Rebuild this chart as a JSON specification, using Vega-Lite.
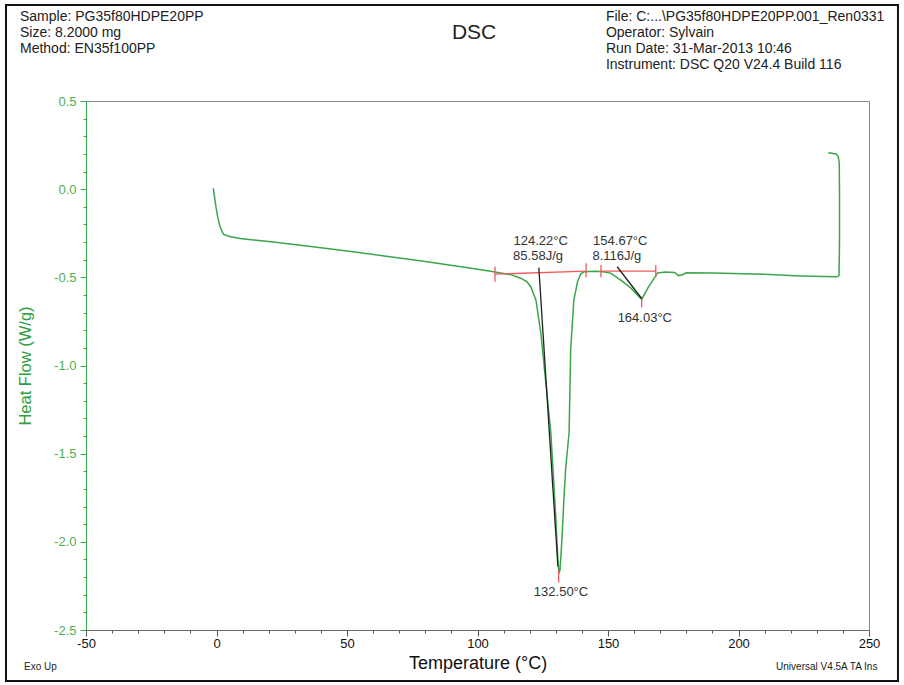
{
  "$schema": "https://vega.github.io/schema/vega-lite/v6.json",
  "width": 783,
  "height": 529,
  "autosize": {"type": "none"},
  "padding": {"left": 86, "top": 101, "right": 35, "bottom": 55},
  "background": "white",
  "config": {"font": "Liberation Sans", "view": {"stroke": "#8a8a8a", "strokeWidth": 1}},
  "datasets": {
    "curve": [
      {"i": 0, "T": -1.2, "HF": 0.005},
      {"i": 1, "T": -0.8, "HF": -0.04},
      {"i": 2, "T": -0.2, "HF": -0.1},
      {"i": 3, "T": 0.5, "HF": -0.16},
      {"i": 4, "T": 1.3, "HF": -0.21},
      {"i": 5, "T": 2.6, "HF": -0.255},
      {"i": 6, "T": 5, "HF": -0.268},
      {"i": 7, "T": 9, "HF": -0.28},
      {"i": 8, "T": 21.8, "HF": -0.3},
      {"i": 9, "T": 34.6, "HF": -0.322},
      {"i": 10, "T": 50, "HF": -0.35},
      {"i": 11, "T": 65, "HF": -0.38},
      {"i": 12, "T": 80, "HF": -0.41},
      {"i": 13, "T": 95, "HF": -0.443},
      {"i": 14, "T": 105, "HF": -0.466},
      {"i": 15, "T": 110, "HF": -0.478},
      {"i": 16, "T": 113, "HF": -0.486},
      {"i": 17, "T": 116.6, "HF": -0.505},
      {"i": 18, "T": 119, "HF": -0.525},
      {"i": 19, "T": 120.5, "HF": -0.556},
      {"i": 20, "T": 122.4, "HF": -0.63},
      {"i": 21, "T": 124.3, "HF": -0.82},
      {"i": 22, "T": 126.2, "HF": -1.1},
      {"i": 23, "T": 128.1, "HF": -1.38},
      {"i": 24, "T": 130.0, "HF": -1.86},
      {"i": 25, "T": 130.8, "HF": -2.1},
      {"i": 26, "T": 131.2, "HF": -2.18},
      {"i": 27, "T": 131.6, "HF": -2.16},
      {"i": 28, "T": 132.3, "HF": -2.0},
      {"i": 29, "T": 133.1, "HF": -1.76},
      {"i": 30, "T": 133.8, "HF": -1.58},
      {"i": 31, "T": 135.1, "HF": -1.38},
      {"i": 32, "T": 135.7, "HF": -0.91},
      {"i": 33, "T": 136.9, "HF": -0.63},
      {"i": 34, "T": 138.4, "HF": -0.52},
      {"i": 35, "T": 139.6, "HF": -0.48},
      {"i": 36, "T": 141, "HF": -0.468},
      {"i": 37, "T": 145, "HF": -0.466},
      {"i": 38, "T": 148, "HF": -0.468},
      {"i": 39, "T": 151, "HF": -0.476},
      {"i": 40, "T": 154.9, "HF": -0.516},
      {"i": 41, "T": 158.7, "HF": -0.56},
      {"i": 42, "T": 162.9, "HF": -0.625},
      {"i": 43, "T": 165.3, "HF": -0.56},
      {"i": 44, "T": 167.2, "HF": -0.516},
      {"i": 45, "T": 169, "HF": -0.475},
      {"i": 46, "T": 172, "HF": -0.47},
      {"i": 47, "T": 175.5, "HF": -0.472},
      {"i": 48, "T": 177, "HF": -0.49},
      {"i": 49, "T": 178.5, "HF": -0.485},
      {"i": 50, "T": 180, "HF": -0.474},
      {"i": 51, "T": 190, "HF": -0.476},
      {"i": 52, "T": 210, "HF": -0.483},
      {"i": 53, "T": 223.6, "HF": -0.492},
      {"i": 54, "T": 237.6, "HF": -0.497},
      {"i": 55, "T": 238.5, "HF": -0.49},
      {"i": 56, "T": 238.7, "HF": -0.3},
      {"i": 57, "T": 238.7, "HF": 0.0},
      {"i": 58, "T": 238.6, "HF": 0.15},
      {"i": 59, "T": 238.2, "HF": 0.185},
      {"i": 60, "T": 237.4, "HF": 0.2},
      {"i": 61, "T": 234.4, "HF": 0.207}
    ],
    "rules": [
      {"kind": "baseline", "T": 106.7, "HF": -0.482, "T2": 141.6, "HF2": -0.465},
      {"kind": "baseline", "T": 106.7, "HF": -0.44, "T2": 106.7, "HF2": -0.525},
      {"kind": "baseline", "T": 141.6, "HF": -0.42, "T2": 141.6, "HF2": -0.5},
      {"kind": "baseline", "T": 147.3, "HF": -0.465, "T2": 168.3, "HF2": -0.465},
      {"kind": "baseline", "T": 147.3, "HF": -0.43, "T2": 147.3, "HF2": -0.5},
      {"kind": "baseline", "T": 168.3, "HF": -0.43, "T2": 168.3, "HF2": -0.5},
      {"kind": "baseline", "T": 131.1, "HF": -2.16, "T2": 131.1, "HF2": -2.23},
      {"kind": "baseline", "T": 162.9, "HF": -0.61, "T2": 162.9, "HF2": -0.67},
      {"kind": "tangent", "T": 123.5, "HF": -0.445, "T2": 130.8, "HF2": -2.14},
      {"kind": "tangent", "T": 153.5, "HF": -0.44, "T2": 162.9, "HF2": -0.62}
    ],
    "notes": [
      {"T": 124.2, "HF": -0.295, "label": "124.22°C"},
      {"T": 123.2, "HF": -0.38, "label": "85.58J/g"},
      {"T": 154.7, "HF": -0.295, "label": "154.67°C"},
      {"T": 153.4, "HF": -0.38, "label": "8.116J/g"},
      {"T": 164.1, "HF": -0.73, "label": "164.03°C"},
      {"T": 132.0, "HF": -2.286, "label": "132.50°C"}
    ],
    "header": [
      {"T": -75.3, "HF": 0.976, "label": "Sample: PG35f80HDPE20PP"},
      {"T": -75.3, "HF": 0.886, "label": "Size:  8.2000 mg"},
      {"T": -75.3, "HF": 0.795, "label": "Method: EN35f100PP"},
      {"T": 149.2, "HF": 0.976, "label": "File: C:...\\PG35f80HDPE20PP.001_Ren0331"},
      {"T": 149.2, "HF": 0.886, "label": "Operator: Sylvain"},
      {"T": 149.2, "HF": 0.795, "label": "Run Date: 31-Mar-2013 10:46"},
      {"T": 149.2, "HF": 0.705, "label": "Instrument: DSC Q20 V24.4 Build 116"}
    ],
    "title": [
      {"T": 98.7, "HF": 0.886, "label": "DSC"}
    ],
    "footer": [
      {"T": -73.75, "HF": -2.71, "label": "Exo Up"},
      {"T": 214.4, "HF": -2.71, "label": "Universal V4.5A TA Ins"}
    ],
    "frame": [
      {"T": -80.65, "HF": 1.044, "T2": 261.1, "HF2": -2.789}
    ]
  },
  "encoding": {
    "x": {
      "field": "T",
      "type": "quantitative",
      "scale": {"domain": [-50, 250], "nice": false, "zero": false},
      "axis": {
        "title": "Temperature (°C)",
        "values": [-50, -40, -30, -20, -10, 0, 10, 20, 30, 40, 50, 60, 70, 80, 90, 100, 110, 120, 130, 140, 150, 160, 170, 180, 190, 200, 210, 220, 230, 240, 250],
        "labelExpr": "abs(round(datum.value)) % 50 === 0 ? replace(format(datum.value, 'd'), '\u2212', '-') : ''",
        "tickSize": {"condition": {"test": "abs(round(datum.value)) % 50 === 0", "value": 6}, "value": 3},
        "grid": false,
        "labelOverlap": false,
        "labelColor": "#111111",
        "labelFontSize": 13,
        "labelFlush": false,
        "labelPadding": 1,
        "domainColor": "#6a6a6a",
        "tickColor": "#555555",
        "titleFontSize": 18,
        "titleFontWeight": "normal",
        "titleColor": "#111111",
        "titlePadding": 4
      }
    },
    "y": {
      "field": "HF",
      "type": "quantitative",
      "scale": {"domain": [-2.5, 0.5], "nice": false, "zero": false},
      "axis": {
        "title": "Heat Flow (W/g)",
        "values": [0.5, 0.4, 0.3, 0.2, 0.1, 0.0, -0.1, -0.2, -0.3, -0.4, -0.5, -0.6, -0.7, -0.8, -0.9, -1.0, -1.1, -1.2, -1.3, -1.4, -1.5, -1.6, -1.7, -1.8, -1.9, -2.0, -2.1, -2.2, -2.3, -2.4, -2.5],
        "labelExpr": "abs(round(datum.value*10)) % 5 === 0 ? replace(format(datum.value, '.1f'), '\u2212', '-') : ''",
        "tickSize": {"condition": {"test": "abs(round(datum.value*10)) % 5 === 0", "value": 6}, "value": 3},
        "grid": false,
        "labelOverlap": false,
        "labelFlush": false,
        "labelColor": "#4caf50",
        "labelFontSize": 13,
        "labelPadding": 4,
        "domainColor": "#3aa64a",
        "tickColor": "#3aa64a",
        "titleColor": "#2f9e40",
        "titleFontSize": 16.5,
        "titleFontWeight": "normal",
        "titlePadding": 20
      }
    }
  },
  "layer": [
    {
      "data": {"name": "frame"},
      "mark": {"type": "rect", "filled": false, "stroke": "#111111", "strokeWidth": 2},
      "encoding": {"x2": {"field": "T2"}, "y2": {"field": "HF2"}}
    },
    {
      "data": {"name": "curve"},
      "mark": {"type": "line", "color": "#3aa64a", "strokeWidth": 1.5},
      "encoding": {"order": {"field": "i", "type": "quantitative"}}
    },
    {
      "data": {"name": "rules"},
      "mark": {"type": "rule", "strokeWidth": 1.3},
      "encoding": {
        "x2": {"field": "T2"},
        "y2": {"field": "HF2"},
        "color": {"field": "kind", "type": "nominal", "scale": {"domain": ["baseline", "tangent"], "range": ["#f05a5a", "#222222"]}, "legend": null}
      }
    },
    {
      "data": {"name": "notes"},
      "mark": {"type": "text", "align": "center", "baseline": "middle", "fontSize": 13, "color": "#333333"},
      "encoding": {"text": {"field": "label"}}
    },
    {
      "data": {"name": "header"},
      "mark": {"type": "text", "align": "left", "baseline": "middle", "fontSize": 14, "color": "#222222"},
      "encoding": {"text": {"field": "label"}}
    },
    {
      "data": {"name": "title"},
      "mark": {"type": "text", "align": "center", "baseline": "middle", "fontSize": 21, "color": "#222222"},
      "encoding": {"text": {"field": "label"}}
    },
    {
      "data": {"name": "footer"},
      "mark": {"type": "text", "align": "left", "baseline": "middle", "fontSize": 10, "color": "#222222"},
      "encoding": {"text": {"field": "label"}}
    }
  ]
}
